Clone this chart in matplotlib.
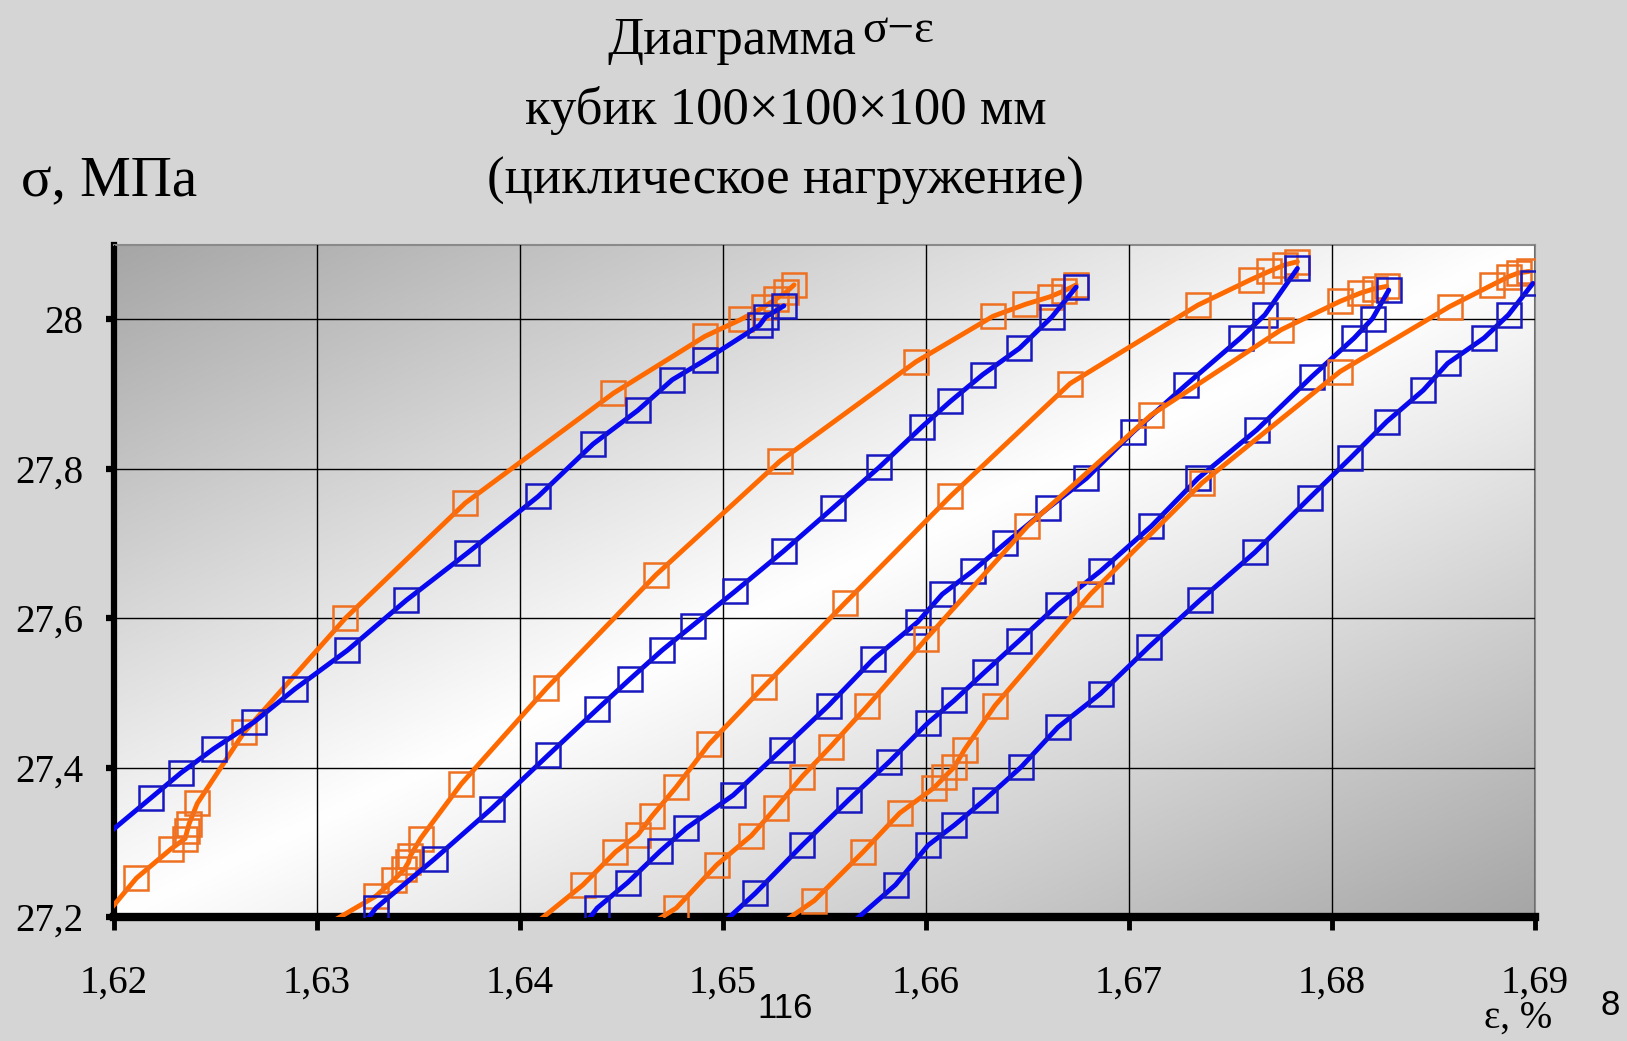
import numpy as np
import matplotlib
matplotlib.use("Agg")
import matplotlib.pyplot as plt
from matplotlib.ticker import FixedLocator, FixedFormatter

# ---------------- data (strain %, stress MPa) ----------------
# loading branches (orange) -- first point is the line start below the axis
o1_eps = [1.6192, 1.6211, 1.6228, 1.6235, 1.6236, 1.6237, 1.6241, 1.6264, 1.6314, 1.6373, 1.6446, 1.6491, 1.6509, 1.6520, 1.6526, 1.6531, 1.6535]
o1_sig = [27.19, 27.252, 27.291, 27.305, 27.315, 27.325, 27.352, 27.447, 27.600, 27.754, 27.901, 27.977, 28.000, 28.016, 28.027, 28.036, 28.046]

o2_eps = [1.6305, 1.6329, 1.6338, 1.6343, 1.6345, 1.6346, 1.6351, 1.6371, 1.6413, 1.6467, 1.6528, 1.6595, 1.6633, 1.6649, 1.6661, 1.6668, 1.6674]
o2_sig = [27.19, 27.228, 27.250, 27.264, 27.273, 27.282, 27.305, 27.378, 27.506, 27.658, 27.810, 27.943, 28.004, 28.020, 28.030, 28.038, 28.046]

o3_eps = [1.6407, 1.6431, 1.6447, 1.6458, 1.6465, 1.6477, 1.6493, 1.6520, 1.6560, 1.6612, 1.6671, 1.6734, 1.6760, 1.6769, 1.6777, 1.6783]
o3_sig = [27.19, 27.243, 27.287, 27.310, 27.335, 27.374, 27.431, 27.508, 27.620, 27.763, 27.914, 28.019, 28.053, 28.064, 28.073, 28.077]

o4_eps = [1.6464, 1.6477, 1.6497, 1.6514, 1.6526, 1.6539, 1.6553, 1.6571, 1.6600, 1.6650, 1.6711, 1.6775, 1.6804, 1.6814, 1.6821, 1.6827]
o4_sig = [27.19, 27.212, 27.270, 27.309, 27.346, 27.388, 27.428, 27.482, 27.572, 27.723, 27.872, 27.986, 28.024, 28.035, 28.041, 28.044]

o5_eps = [1.6528, 1.6545, 1.6569, 1.6587, 1.6604, 1.6609, 1.6614, 1.6619, 1.6634, 1.6681, 1.6736, 1.6804, 1.6858, 1.6879, 1.6887, 1.6892, 1.6897]
o5_sig = [27.19, 27.222, 27.287, 27.339, 27.373, 27.387, 27.401, 27.424, 27.483, 27.632, 27.781, 27.930, 28.017, 28.046, 28.057, 28.062, 28.064]

# unloading branches (blue) -- last point is the line end outside the axes
b1_eps = [1.6530, 1.6521, 1.6518, 1.6491, 1.6475, 1.6458, 1.6436, 1.6409, 1.6374, 1.6344, 1.6315, 1.6289, 1.6269, 1.6249, 1.6233, 1.6218, 1.6192]
b1_sig = [28.018, 28.003, 27.992, 27.945, 27.919, 27.878, 27.833, 27.763, 27.687, 27.624, 27.557, 27.505, 27.461, 27.425, 27.393, 27.359, 27.300]

b2_eps = [1.6674, 1.6662, 1.6646, 1.6628, 1.6612, 1.6598, 1.6577, 1.6554, 1.6530, 1.6506, 1.6485, 1.6470, 1.6454, 1.6438, 1.6414, 1.6386, 1.6358, 1.6329, 1.6320]
b2_sig = [28.043, 28.003, 27.961, 27.926, 27.890, 27.856, 27.802, 27.747, 27.690, 27.636, 27.590, 27.557, 27.518, 27.478, 27.417, 27.345, 27.278, 27.212, 27.18]

b3_eps = [1.6783, 1.6767, 1.6755, 1.6728, 1.6702, 1.6679, 1.6660, 1.6639, 1.6623, 1.6608, 1.6596, 1.6574, 1.6552, 1.6529, 1.6505, 1.6482, 1.6469, 1.6453, 1.6438, 1.6429]
b3_sig = [28.068, 28.006, 27.975, 27.912, 27.849, 27.787, 27.747, 27.700, 27.663, 27.632, 27.595, 27.545, 27.483, 27.424, 27.363, 27.319, 27.288, 27.246, 27.212, 27.18]

b4_eps = [1.6828, 1.6820, 1.6811, 1.6790, 1.6763, 1.6734, 1.6711, 1.6686, 1.6665, 1.6646, 1.6629, 1.6614, 1.6601, 1.6582, 1.6562, 1.6539, 1.6516, 1.6494]
b4_sig = [28.039, 28.001, 27.975, 27.923, 27.852, 27.787, 27.723, 27.663, 27.618, 27.570, 27.528, 27.490, 27.460, 27.408, 27.357, 27.296, 27.232, 27.177]

b5_eps = [1.6899, 1.6887, 1.6875, 1.6857, 1.6845, 1.6827, 1.6809, 1.6789, 1.6762, 1.6735, 1.6710, 1.6686, 1.6665, 1.6647, 1.6629, 1.6614, 1.6601, 1.6585, 1.6561]
b5_sig = [28.048, 28.006, 27.975, 27.941, 27.905, 27.863, 27.814, 27.761, 27.688, 27.624, 27.562, 27.499, 27.454, 27.401, 27.357, 27.323, 27.296, 27.243, 27.186]

x_ticks = [1.62, 1.63, 1.64, 1.65, 1.66, 1.67, 1.68, 1.69]
x_labels = ["1,62", "1,63", "1,64", "1,65", "1,66", "1,67", "1,68", "1,69"]
y_ticks = [27.2, 27.4, 27.6, 27.8, 28.0]
y_labels = ["27,2", "27,4", "27,6", "27,8", "28"]

title_word = "Диаграмма"
title_sym = "σ−ε"
title_lines = ["кубик 100×100×100 мм", "(циклическое нагружение)"]

# ---------------- figure ----------------
SERIF = ["Liberation Serif", "DejaVu Serif"]
SANS = ["Liberation Sans", "DejaVu Sans"]
fig = plt.figure(figsize=(16.27, 10.41), dpi=100, facecolor="#d5d5d5")
ax = fig.add_axes([0.0701, 0.1191, 0.8733, 0.6460])

# plot-area diagonal gradient background
gx, gy = np.meshgrid(np.linspace(0, 1, 400), np.linspace(1, 0, 300))
shade = 1.0 - 0.35 * np.abs(gx - gy)
ax.imshow(np.dstack([shade, shade, shade]), extent=[0, 1, 0, 1],
          transform=ax.transAxes, aspect="auto", zorder=0, interpolation="bilinear")

ORANGE, ORANGE_M = "#FF6A00", "#EE7020"
BLUE, BLUE_M = "#0808F0", "#1818C0"

loads = [(o1_eps, o1_sig), (o2_eps, o2_sig), (o3_eps, o3_sig), (o4_eps, o4_sig), (o5_eps, o5_sig)]
unloads = [(b1_eps, b1_sig), (b2_eps, b2_sig), (b3_eps, b3_sig), (b4_eps, b4_sig), (b5_eps, b5_sig)]

for (le, ls), (ue, us) in zip(loads, unloads):
    ax.plot(le, ls, color=ORANGE, lw=3.5, marker="s", ms=17, mfc="none",
            mec=ORANGE_M, mew=1.8, markevery=slice(1, None), zorder=3,
            solid_joinstyle="round", solid_capstyle="round")
    ax.plot(ue, us, color=BLUE, lw=3.5, marker="s", ms=17, mfc="none",
            mec=BLUE_M, mew=1.8, markevery=slice(0, len(ue) - 1), zorder=3,
            solid_joinstyle="round", solid_capstyle="round")

ax.set_xlim(1.62, 1.69)
ax.set_ylim(27.2, 28.1)

ax.xaxis.set_major_locator(FixedLocator(x_ticks))
ax.xaxis.set_major_formatter(FixedFormatter(x_labels))
ax.yaxis.set_major_locator(FixedLocator(y_ticks))
ax.yaxis.set_major_formatter(FixedFormatter(y_labels))

ax.grid(True, color="black", lw=1.0, zorder=1)
ax.set_axisbelow(False)
for gl in ax.get_xgridlines() + ax.get_ygridlines():
    gl.set_zorder(1)

ax.spines["left"].set_linewidth(4.5)
ax.spines["bottom"].set_linewidth(6.0)
for s in ("top", "right"):
    ax.spines[s].set_color("#8a8a8a")
    ax.spines[s].set_linewidth(1.5)

ax.tick_params(axis="x", direction="out", length=9, width=3.5, pad=25,
               labelsize=28, labelfontfamily=SERIF)
ax.tick_params(axis="y", direction="out", length=6, width=4.5, pad=16,
               labelsize=28, labelfontfamily=SERIF)

# titles and axis labels
fig.text(0.526, 0.9606, title_word, ha="right", va="center", fontsize=38, family=SERIF)
fig.text(0.530, 0.9700, title_sym, ha="left", va="center", fontsize=34, family=SERIF)
for txt, yy in zip(title_lines, [0.8934, 0.8261]):
    fig.text(0.483, yy, txt, ha="center", va="center", fontsize=38, family=SERIF)
fig.text(0.013, 0.8261, "σ, МПа", ha="left", va="center", fontsize=41, family=SERIF)
fig.text(0.933, 0.004, "ε, %", ha="center", va="bottom", fontsize=28, family=SERIF)
fig.text(0.4825, 0.031, "116", ha="center", va="center", fontsize=25, family=SANS)
fig.text(0.9895, 0.034, "8", ha="center", va="center", fontsize=25, family=SANS)

fig.savefig("out.png", dpi=100, facecolor=fig.get_facecolor())
